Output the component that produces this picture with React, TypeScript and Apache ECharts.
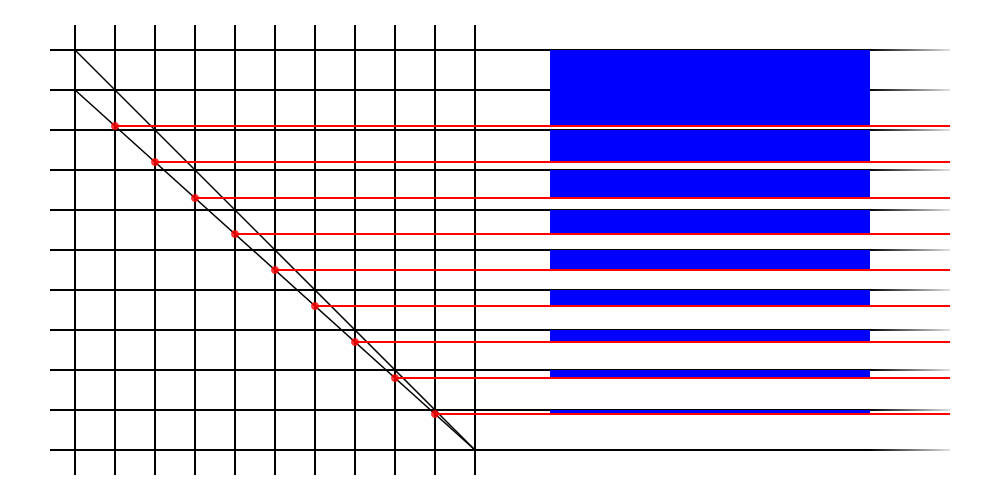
import { useEffect, useRef } from 'react'
import * as echarts from 'echarts'

// grid levels (both axes), in axis units
const gridTicks = [0, 1, 2, 3, 4, 5, 6, 7, 8, 9, 10]
// top of each blue block (steps down the first diagonal)
const levels = [10, 9, 8, 7, 6, 5, 4, 3, 2, 1]
// reduced values read on the second diagonal (bottom of each blue block)
const reduced = [9, 8.1, 7.2, 6.3, 5.4, 4.5, 3.6, 2.7, 1.8, 0.9]

const X_MIN = -0.625
const X_MAX = 21.875
const Y_MIN = -0.625
const Y_MAX = 10.625
const BAR_LEFT = 11.875
const BAR_RIGHT = 19.875

const fadeBlack = {
  type: 'linear',
  x: 50,
  y: 0,
  x2: 950,
  y2: 0,
  global: true,
  colorStops: [
    { offset: 0, color: '#000' },
    { offset: 0.91, color: '#000' },
    { offset: 1, color: 'rgba(0,0,0,0.12)' },
  ],
}

function lineSeries(data: number[][], color: any, width: number, z: number) {
  return {
    type: 'line',
    data,
    showSymbol: false,
    silent: true,
    clip: false,
    z,
    lineStyle: { color, width },
  }
}

export default function App() {
  const ref = useRef<HTMLDivElement>(null)

  useEffect(() => {
    document.body.style.margin = '0'
    if (!ref.current) return
    const chart = echarts.init(ref.current, undefined, { renderer: 'svg' })

    const horizontals = gridTicks.map((y) =>
      lineSeries([[X_MIN, y], [X_MAX, y]], fadeBlack, 2, 1),
    )
    const verticals = gridTicks.map((x) =>
      lineSeries([[x, Y_MIN], [x, Y_MAX]], '#000', 2, 1),
    )
    const diagonals = [
      lineSeries([[0, levels[0]], [10, 0]], '#000', 1.5, 1),
      lineSeries([[0, reduced[0]], [10, 0]], '#000', 1.5, 1),
    ]
    const redLines = reduced
      .map((v, i) => ({ v, i }))
      .filter((d) => d.i > 0)
      .map((d) => lineSeries([[d.i, d.v], [X_MAX, d.v]], '#ff0000', 2, 3))

    const option: any = {
      animation: false,
      grid: { left: 50, right: 50, top: 25, bottom: 25 },
      xAxis: { type: 'value', min: X_MIN, max: X_MAX, show: false },
      yAxis: { type: 'value', min: Y_MIN, max: Y_MAX, show: false },
      series: [
        ...horizontals,
        ...verticals,
        ...diagonals,
        {
          type: 'custom',
          silent: true,
          z: 2,
          data: levels.map((top, i) => [BAR_LEFT, BAR_RIGHT, reduced[i], top]),
          renderItem: (_params: any, api: any) => {
            const p1 = api.coord([api.value(0), api.value(3)])
            const p2 = api.coord([api.value(1), api.value(2)])
            return {
              type: 'rect',
              shape: { x: p1[0], y: p1[1], width: p2[0] - p1[0], height: p2[1] - p1[1] },
              style: { fill: '#0000ff' },
            }
          },
        },
        ...redLines,
        {
          type: 'scatter',
          silent: true,
          z: 4,
          symbolSize: 8,
          itemStyle: { color: '#ff0000' },
          data: reduced.map((v, i) => [i, v]).filter((d) => d[0] > 0),
        },
      ],
    }

    chart.setOption(option)
    return () => chart.dispose()
  }, [])

  return <div ref={ref} style={{ width: 1000, height: 500 }} />
}
